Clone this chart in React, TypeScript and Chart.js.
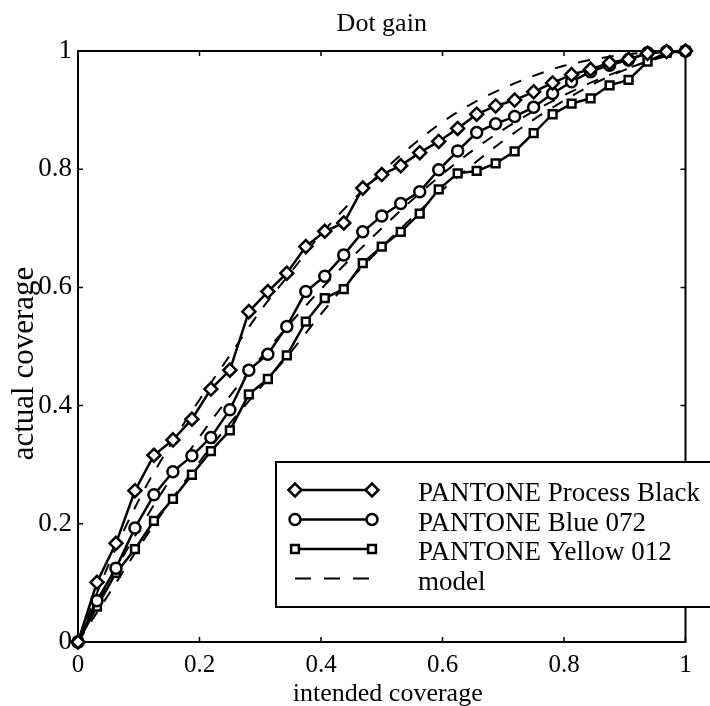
import React, { useEffect, useRef } from 'react';
import { Chart, registerables } from 'chart.js';
import { drawPoint } from 'chart.js/helpers';

Chart.register(...registerables);

const TITLE = 'Dot gain';
const X_TITLE = 'intended coverage';
const Y_TITLE = 'actual coverage';
const SERIES_LABELS = ['PANTONE Process Black', 'PANTONE Blue 072', 'PANTONE Yellow 012'];
const MODEL_LABEL = 'model';
const TICK_VALUES = [0, 0.2, 0.4, 0.6, 0.8, 1];
const TICK_LABELS = ['0', '0.2', '0.4', '0.6', '0.8', '1'];

const intended = [
  0, 0.03125, 0.0625, 0.09375, 0.125, 0.15625, 0.1875, 0.21875, 0.25, 0.28125, 0.3125,
  0.34375, 0.375, 0.40625, 0.4375, 0.46875, 0.5, 0.53125, 0.5625, 0.59375, 0.625,
  0.65625, 0.6875, 0.71875, 0.75, 0.78125, 0.8125, 0.84375, 0.875, 0.90625, 0.9375,
  0.96875, 1,
];

const processBlack = [
  0, 0.101, 0.167, 0.256, 0.316, 0.342, 0.377, 0.428, 0.46, 0.559, 0.593, 0.624, 0.669,
  0.695, 0.709, 0.768, 0.791, 0.806, 0.828, 0.847, 0.869, 0.893, 0.907, 0.917, 0.931,
  0.946, 0.96, 0.969, 0.98, 0.986, 0.996, 0.999, 1,
];

const blue072 = [
  0, 0.07, 0.125, 0.193, 0.249, 0.288, 0.315, 0.346, 0.393, 0.46, 0.487, 0.534, 0.593,
  0.619, 0.655, 0.694, 0.721, 0.742, 0.762, 0.799, 0.831, 0.862, 0.877, 0.889, 0.905,
  0.928, 0.948, 0.965, 0.976, 0.985, 0.997, 0.999, 1,
];

const yellow012 = [
  0, 0.06, 0.117, 0.157, 0.205, 0.242, 0.283, 0.323, 0.358, 0.419, 0.445, 0.485, 0.542,
  0.582, 0.597, 0.641, 0.669, 0.694, 0.725, 0.766, 0.793, 0.797, 0.81, 0.83, 0.861,
  0.893, 0.911, 0.92, 0.942, 0.951, 0.982, 0.997, 1,
];

const modelX = [
  0, 0.05, 0.1, 0.15, 0.2, 0.25, 0.3, 0.35, 0.4, 0.45, 0.5, 0.55, 0.6, 0.65, 0.7, 0.75,
  0.8, 0.85, 0.9, 0.95, 1,
];
const modelBlack = [
  0, 0.13, 0.24, 0.33, 0.41, 0.485, 0.56, 0.625, 0.69, 0.745, 0.795, 0.84, 0.88, 0.912,
  0.937, 0.958, 0.975, 0.986, 0.994, 0.998, 1,
];
const modelBlue = [
  0, 0.1, 0.19, 0.272, 0.347, 0.416, 0.48, 0.54, 0.597, 0.65, 0.7, 0.748, 0.792, 0.832,
  0.867, 0.898, 0.925, 0.949, 0.969, 0.986, 1,
];
const modelYellow = [
  0, 0.08, 0.16, 0.235, 0.305, 0.37, 0.43, 0.49, 0.555, 0.615, 0.668, 0.718, 0.765, 0.808,
  0.848, 0.884, 0.916, 0.945, 0.968, 0.987, 1,
];

const FONT = '"Liberation Serif", "Times New Roman", serif';
const MARKERS = [
  { style: 'rectRot', radius: 6.5 },
  { style: 'circle', radius: 5.5 },
  { style: 'rect', radius: 5.5 },
];

const toPoints = (xs: number[], ys: number[]) => xs.map((x, i) => ({ x, y: ys[i] }));

const tickLabel = (v: number | string) => {
  const i = TICK_VALUES.findIndex((t) => Math.abs(t - Number(v)) < 1e-6);
  return i >= 0 ? TICK_LABELS[i] : '';
};

const framePlugin = {
  id: 'matlabFrame',
  beforeDatasetsDraw(chart: any) {
    const { ctx, chartArea, scales } = chart;
    const { left, right, top, bottom } = chartArea;
    ctx.save();
    ctx.strokeStyle = '#000';
    ctx.lineWidth = 2;
    ctx.strokeRect(left, top, right - left, bottom - top);
    ctx.lineWidth = 1.5;
    ctx.beginPath();
    TICK_VALUES.forEach((v) => {
      const x = scales.x.getPixelForValue(v);
      const y = scales.y.getPixelForValue(v);
      ctx.moveTo(x, bottom);
      ctx.lineTo(x, bottom - 5);
      ctx.moveTo(x, top);
      ctx.lineTo(x, top + 5);
      ctx.moveTo(left, y);
      ctx.lineTo(left + 5, y);
      ctx.moveTo(right, y);
      ctx.lineTo(right - 5, y);
    });
    ctx.stroke();
    ctx.restore();
  },
  afterDraw(chart: any) {
    const { ctx, chartArea } = chart;
    ctx.save();
    // legend box
    const bx = 276;
    const by = 462;
    const bw = 460;
    const bh = 145;
    ctx.fillStyle = '#fff';
    ctx.fillRect(bx, by, bw, bh);
    ctx.strokeStyle = '#000';
    ctx.lineWidth = 2;
    ctx.strokeRect(bx, by, bw, bh);
    const rowY = [490, 519.5, 549, 578.5];
    const x0 = 295;
    const x1 = 372;
    for (let i = 0; i < 3; i++) {
      const y = rowY[i];
      ctx.strokeStyle = '#000';
      ctx.lineWidth = 2.5;
      ctx.setLineDash([]);
      ctx.beginPath();
      ctx.moveTo(x0, y);
      ctx.lineTo(x1, y);
      ctx.stroke();
      ctx.fillStyle = '#fff';
      const opts = { pointStyle: MARKERS[i].style, radius: MARKERS[i].radius, borderWidth: 2.5, rotation: 0 };
      drawPoint(ctx, opts as any, x0, y);
      drawPoint(ctx, opts as any, x1, y);
    }
    ctx.lineWidth = 2;
    ctx.setLineDash([16, 13]);
    ctx.beginPath();
    ctx.moveTo(x0, rowY[3]);
    ctx.lineTo(x1, rowY[3]);
    ctx.stroke();
    ctx.setLineDash([]);
    ctx.fillStyle = '#000';
    ctx.font = `27px ${FONT}`;
    ctx.textAlign = 'left';
    ctx.textBaseline = 'alphabetic';
    const labels = [...SERIES_LABELS, MODEL_LABEL];
    labels.forEach((t, i) => ctx.fillText(t, 418, rowY[i] + 11));

    // axis titles
    const cx = (chartArea.left + chartArea.right) / 2;
    const cy = (chartArea.top + chartArea.bottom) / 2;
    ctx.textAlign = 'center';
    ctx.font = `26px ${FONT}`;
    ctx.fillText(X_TITLE, cx + 6, 701);
    ctx.translate(33, cy + 17);
    ctx.rotate(-Math.PI / 2);
    ctx.font = `31px ${FONT}`;
    ctx.fillText(Y_TITLE, 0, 0);
    ctx.restore();
  },
};

export default function App() {
  const ref = useRef<HTMLCanvasElement | null>(null);
  useEffect(() => {
    if (!ref.current) return;
    const series = [processBlack, blue072, yellow012];
    const dataSets: any[] = series.map((ys, i) => ({
      label: SERIES_LABELS[i],
      data: toPoints(intended, ys),
      showLine: true,
      borderColor: '#000',
      borderWidth: 2.5,
      pointStyle: MARKERS[i].style,
      pointRadius: MARKERS[i].radius,
      pointBorderWidth: 2.5,
      pointBackgroundColor: '#fff',
      pointBorderColor: '#000',
      clip: false,
      order: 1,
    }));
    [modelBlack, modelBlue, modelYellow].forEach((ys) => {
      dataSets.push({
        label: MODEL_LABEL,
        data: toPoints(modelX, ys),
        showLine: true,
        borderColor: '#000',
        borderWidth: 2,
        borderDash: [12, 12],
        pointRadius: 0,
        cubicInterpolationMode: 'monotone',
        clip: false,
        order: 5,
      });
    });
    const chart = new Chart(ref.current, {
      type: 'scatter',
      data: { datasets: dataSets },
      plugins: [framePlugin],
      options: {
        animation: false,
        responsive: false,
        devicePixelRatio: 1,
        layout: { padding: { left: 0, right: 24.5, top: 0, bottom: 0 } },
        plugins: {
          legend: { display: false },
          tooltip: { enabled: false },
          title: {
            display: true,
            text: TITLE,
            color: '#000',
            fullSize: false,
            font: { family: FONT, size: 26, weight: 'normal' },
            padding: { top: 8.6, bottom: 11.2 },
          },
        },
        scales: {
          x: {
            type: 'linear',
            min: 0,
            max: 1,
            afterFit: (s: any) => {
              s.height = 64;
            },
            grid: { display: false, drawTicks: false },
            border: { display: false },
            ticks: {
              stepSize: 0.2,
              color: '#000',
              padding: 8.6,
              maxRotation: 0,
              callback: tickLabel,
              font: { family: FONT, size: 25 },
            },
          },
          y: {
            type: 'linear',
            min: 0,
            max: 1,
            afterFit: (s: any) => {
              s.width = 78;
            },
            grid: { display: false, drawTicks: false },
            border: { display: false },
            ticks: {
              stepSize: 0.2,
              color: '#000',
              padding: 6,
              callback: tickLabel,
              font: { family: FONT, size: 27 },
            },
          },
        },
      },
    });
    return () => chart.destroy();
  }, []);
  return (
    <div style={{ position: 'absolute', left: 0, top: 0, width: 710, height: 706, background: '#fff' }}>
      <canvas ref={ref} width={710} height={706} />
    </div>
  );
}
